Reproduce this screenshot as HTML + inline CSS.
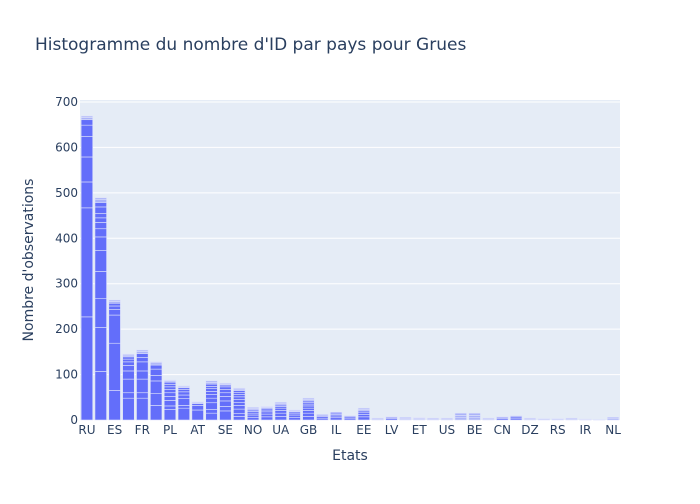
<!DOCTYPE html>
<html><head><meta charset="utf-8">
<style>
body{margin:0;background:#fff;font-family:"DejaVu Sans",sans-serif;}
svg text{font-family:"DejaVu Sans",sans-serif;fill:#2a3f5f;}
</style></head><body>
<svg id="chart" width="700" height="500">
<rect width="700" height="500" fill="#fff"/>
<text x="35" y="50" font-size="17">Histogramme du nombre d'ID par pays pour Grues</text>
<rect x="80" y="100" width="540" height="320" fill="#e5ecf6"/>
<g id="grid"></g><g id="bars"></g><g id="xt"></g><g id="yt"></g>
<text x="350" y="460" font-size="14" text-anchor="middle">Etats</text>
<text transform="translate(33,260) rotate(-90)" font-size="14" text-anchor="middle">Nombre d'observations</text>
</svg>
<script>
const categories=["RU","c2","ES","c4","FR","c6","PL","c8","AT","c10","SE","c12","NO","c14","UA","c16","GB","c18","IL","c20","EE","c22","LV","c24","ET","c26","US","c28","BE","c30","CN","c32","DZ","c34","RS","c36","IR","c38","NL"];
const shownLabels=["RU","ES","FR","PL","AT","SE","NO","UA","GB","IL","EE","LV","ET","US","BE","CN","DZ","RS","IR","NL"];
const segments=[
[227,240,57,55,45,25,12,5,3],
[107,97,63,60,46,30,18,14,10,10,14,10,6,4],
[65,104,62,12,8,6,4,3],
[48,12,30,18,12,8,6,5,4,2],
[48,12,30,18,20,10,8,5,3],
[32,26,28,12,14,9,5,2],
[23,8,12,9,8,7,6,5,4,3,2,1],
[26,6,15,8,7,5,4,2,2],
[22,10,4,2,2],
[15,8,15,10,8,7,6,5,5,4,3],
[20,10,12,10,8,7,6,4,2,2],
[8,6,10,8,7,6,6,5,5,4,3,2],
[6,5,4,4,3,2,2,2],
[7,6,5,4,3,2,2,1],
[8,7,6,5,4,3,3,3],
[6,5,4,3,2,2],
[8,7,6,5,5,4,4,3,3,3],
[4,4,2,2],
[5,4,3,3,2],
[4,3,2],
[7,5,4,4,3,3],
[2,2],[3,2,2],[2,2,2],[2,2,1],[2,2],[2,2],
[5,5,5],[5,5,5],[2,2],[3,2,2],[4,3,2],[2,2],[2,1],[2,1],[2,2],[1,1],[1],[3,3]
];
const yTicks=[0,100,200,300,400,500,600,700];
const x0=80,x1=620,yB=420,yT=102,yMax=700;
const y=v=>yB-(v/yMax)*(yB-yT);
const step=(x1-x0)/categories.length;
const xc=i=>x0+step*(i+0.5);
const NS="http://www.w3.org/2000/svg";
const mk=(t,a,p)=>{const e=document.createElementNS(NS,t);for(const k in a)e.setAttribute(k,a[k]);p.appendChild(e);return e;};
const grid=document.getElementById('grid'),yt=document.getElementById('yt'),xt=document.getElementById('xt'),bars=document.getElementById('bars');
yTicks.forEach(v=>{
  if(v>0){const l=mk('line',{x1:x0,x2:x1,y1:y(v),y2:y(v),stroke:'#fff','stroke-width':1},grid);
  
  }
  const t=mk('text',{x:x0-2,y:y(v)+4,'font-size':12,'text-anchor':'end'},yt);t.textContent=v;
  
  
});
categories.forEach((c,i)=>{
  if(shownLabels.includes(c)){const t=mk('text',{x:xc(i),y:yB+14,'font-size':12,'text-anchor':'middle'},xt);t.textContent=c;
  
  }
  const g=mk('g',{},bars);
  
  
  let acc=0;const segs=segments[i]||[];const total=segs.reduce((a,b)=>a+b,0);
  segs.forEach((s,j)=>{
    const light=(total<=6)||(j>=segs.length-2&&total>20)||(i>=27&&i<=28);
    const r=mk('rect',{x:xc(i)-step*0.42,width:step*0.84,y:y(acc+s),height:Math.max(0.5,y(acc)-y(acc+s)),fill:'#636efa','fill-opacity':light?0.45:1,stroke:'#dfe3fb','stroke-width':0.6},g);
    
    
    acc+=s;
  });
});
</script>
</body></html>
